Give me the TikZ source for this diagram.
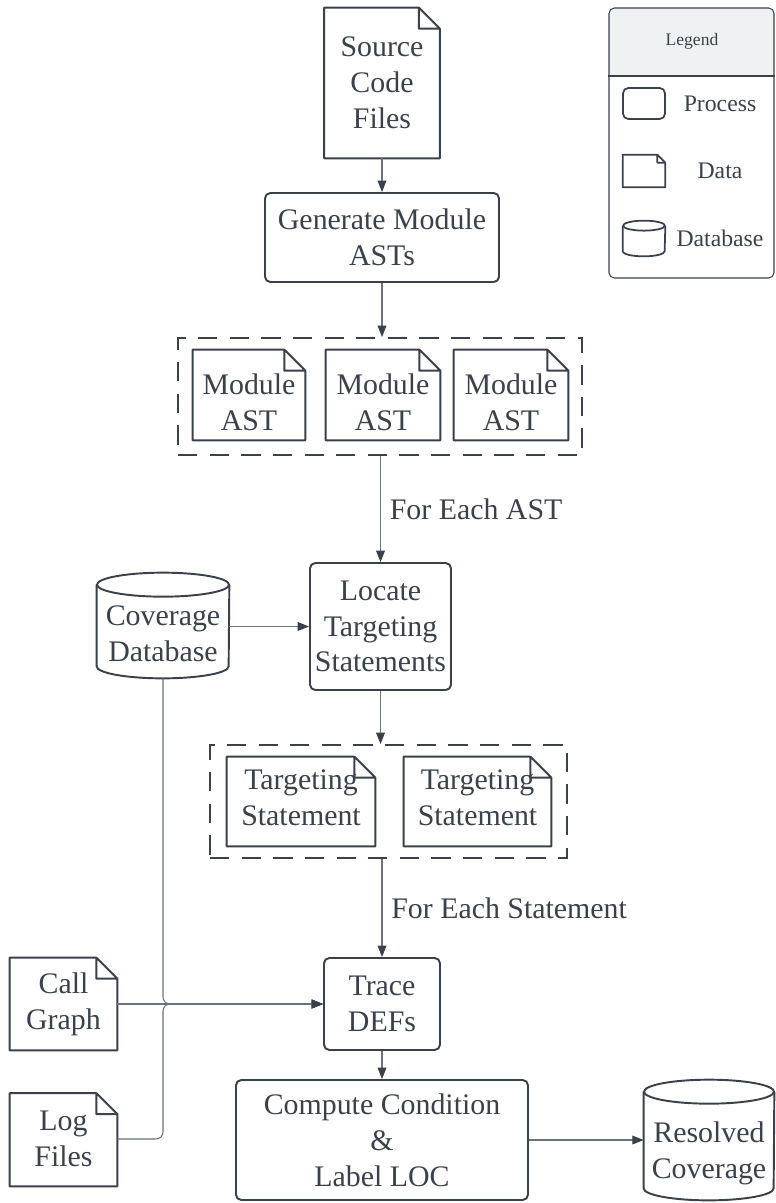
\documentclass[tikz,border=0pt]{standalone}
\usepackage{fontspec}
\setmainfont{Liberation Serif}
\usetikzlibrary{arrows.meta,calc}
\definecolor{ink}{HTML}{3A414A}
\definecolor{wire}{HTML}{6B727B}
\definecolor{legfill}{HTML}{F0F1F3}
\newcommand{\fold}{0.42cm}

\tikzset{
  box/.style={rectangle, inner sep=0pt, align=center, text=ink, font=\fontsize{17}{20.4}\selectfont},
  process/.style={box, draw=ink, line width=1.1pt, rounded corners=3pt},
  shapeline/.style={draw=ink, line width=1.1pt, line join=round},
  group/.style={rectangle, draw=ink, line width=1.1pt, dash pattern=on 11pt off 7pt},
  flow/.style={draw=wire, line width=0.6pt, -{Triangle[length=6.5pt,width=5pt,color=ink]}},
  lbl/.style={box, right=5pt},
  legtext/.style={box, font=\fontsize{13.5}{16}\selectfont},
}

\begin{document}
\begin{tikzpicture}[x=0.02cm, y=-0.02cm]
  \useasboundingbox (0,0) rectangle (775,1203);

  % main column
  \node[box, minimum width=2.3cm, minimum height=3cm] (src) at (382,83) {Source\\Code\\Files};
  \node[process, minimum width=4.68cm, minimum height=1.78cm] (gen) at (382,237.5) {Generate Module\\ASTs};
  \node[group, minimum width=8.08cm, minimum height=2.34cm] (grp1) at (380,396.5) {};
  \node[box, minimum width=2.24cm, minimum height=2.08cm] (modA) at (249,402) {Module\\AST};
  \node[box, minimum width=2.28cm, minimum height=2.08cm] (modB) at (383,402) {Module\\AST};
  \node[box, minimum width=2.28cm, minimum height=2.08cm] (modC) at (511,402) {Module\\AST};
  \node[process, minimum width=2.82cm, minimum height=2.54cm] (loc) at (380.5,626.5) {Locate\\Targeting\\Statements};
  \node[box, minimum width=2.64cm, minimum height=1.96cm] (cov) at (163,634) {Coverage\\Database};
  \node[group, minimum width=7.14cm, minimum height=2.26cm] (grp2) at (388.5,801.5) {};
  \node[box, minimum width=2.96cm, minimum height=1.64cm] (tsA) at (301,798) {Targeting\\Statement};
  \node[box, minimum width=2.94cm, minimum height=1.64cm] (tsB) at (477.5,798) {Targeting\\Statement};
  \node[process, minimum width=2.32cm, minimum height=1.84cm] (trace) at (382,1004) {Trace\\DEFs};
  \node[box, minimum width=2.14cm, minimum height=1.84cm] (call) at (63.5,1004) {Call\\Graph};
  \node[box, minimum width=2.14cm, minimum height=1.82cm] (log) at (63.5,1139) {Log\\Files};
  \node[process, minimum width=5.84cm, minimum height=2.4cm] (comp) at (382,1140) {Compute Condition\\\&\\Label LOC};
  \node[box, minimum width=2.6cm, minimum height=2.44cm] (res) at (709,1153) {Resolved\\Coverage};

  % data shapes (bottom edge offset from the text box)
  \foreach \n/\dy in {src/0cm, modA/0.28cm, modB/0.28cm, modC/0.28cm, tsA/-0.14cm, tsB/-0.14cm, call/0cm, log/-0.03cm}
    \draw[shapeline] (\n.north west) -- ([xshift=-\fold]\n.north east) -- ([yshift=-\fold]\n.north east) |- ([yshift=\dy]\n.south west) -- cycle
      ([xshift=-\fold]\n.north east) |- ([yshift=-\fold]\n.north east);

  % databases
  \foreach \n/\rx/\dy in {cov/1.32/0.1, res/1.3/0.28} {
    \draw[shapeline] (\n.north) ellipse [x radius=\rx cm, y radius=0.24cm];
    \draw[shapeline] (\n.north west) -- ([yshift=0.24cm+\dy cm]\n.south west)
      arc [start angle=180, end angle=360, x radius=\rx cm, y radius=0.24cm] -- (\n.north east);
  }
  \coordinate (covbottom) at ([yshift=0.1cm]cov.south);

  % connectors
  \draw[flow] (src.south) -- (gen.north);
  \draw[flow] (gen.south) -- (gen.south |- grp1.north);
  \draw[flow] (grp1.south -| loc.north) -- node[lbl] (eachAst) {For Each AST} (loc.north);
  \draw[flow] (cov.east |- loc.west) -- (loc.west);
  \draw[flow] (loc.south) -- (loc.south |- grp2.north);
  \draw[flow] (grp2.south -| trace.north) -- node[lbl] (eachStmt) {For Each Statement} (trace.north);
  \coordinate (merge) at (covbottom |- trace.west);
  \draw[flow] (call.east) -- (trace.west);
  \draw[flow, rounded corners=4pt] (covbottom) -- (merge) -- (trace.west);
  \draw[flow, rounded corners=4pt] (log.east) -| (merge) -- (trace.west);
  \draw[flow] (trace.south) -- (comp.north);
  \draw[flow] (comp.east) -- (comp.east -| res.west);

  % legend
  \fill[legfill, rounded corners=3pt] (609,8) rectangle (774,76);
  \fill[legfill] (609,40) rectangle (774,76);
  \node[draw=ink, line width=0.6pt, rounded corners=3pt, minimum width=3.3cm, minimum height=5.4cm, inner sep=0pt] (legend) at (691.5,143) {};
  \coordinate (legsplit) at (691.5,76);
  \draw[ink, line width=0.6pt] (legend.west |- legsplit) -- (legend.east |- legsplit);
  \node[box, font=\fontsize{10}{12}\selectfont] (legtitle) at (692,41) {Legend};
  \node[process, line width=1pt, minimum width=0.84cm, minimum height=0.62cm] (legProc) at (644,103.5) {};
  \node[box, minimum width=0.84cm, minimum height=0.64cm] (legData) at (644,171) {};
  \draw[shapeline, line width=1pt] (legData.north west) -- ([xshift=-0.16cm]legData.north east) -- ([yshift=-0.16cm]legData.north east) |- (legData.south west) -- cycle
    ([xshift=-0.16cm]legData.north east) |- ([yshift=-0.16cm]legData.north east);
  \node[box, minimum width=0.84cm, minimum height=0.6cm] (legDb) at (644,241) {};
  \draw[shapeline, line width=1pt] (legDb.north) ellipse [x radius=0.42cm, y radius=0.1cm];
  \draw[shapeline, line width=1pt] (legDb.north west) -- ([yshift=0.1cm]legDb.south west)
    arc [start angle=180, end angle=360, x radius=0.42cm, y radius=0.1cm] -- (legDb.north east);
  \node[legtext] (legProcTxt) at (720,104) {Process};
  \node[legtext] (legDataTxt) at (720,171) {Data};
  \node[legtext] (legDbTxt) at (720,238) {Database};
\end{tikzpicture}
\end{document}
